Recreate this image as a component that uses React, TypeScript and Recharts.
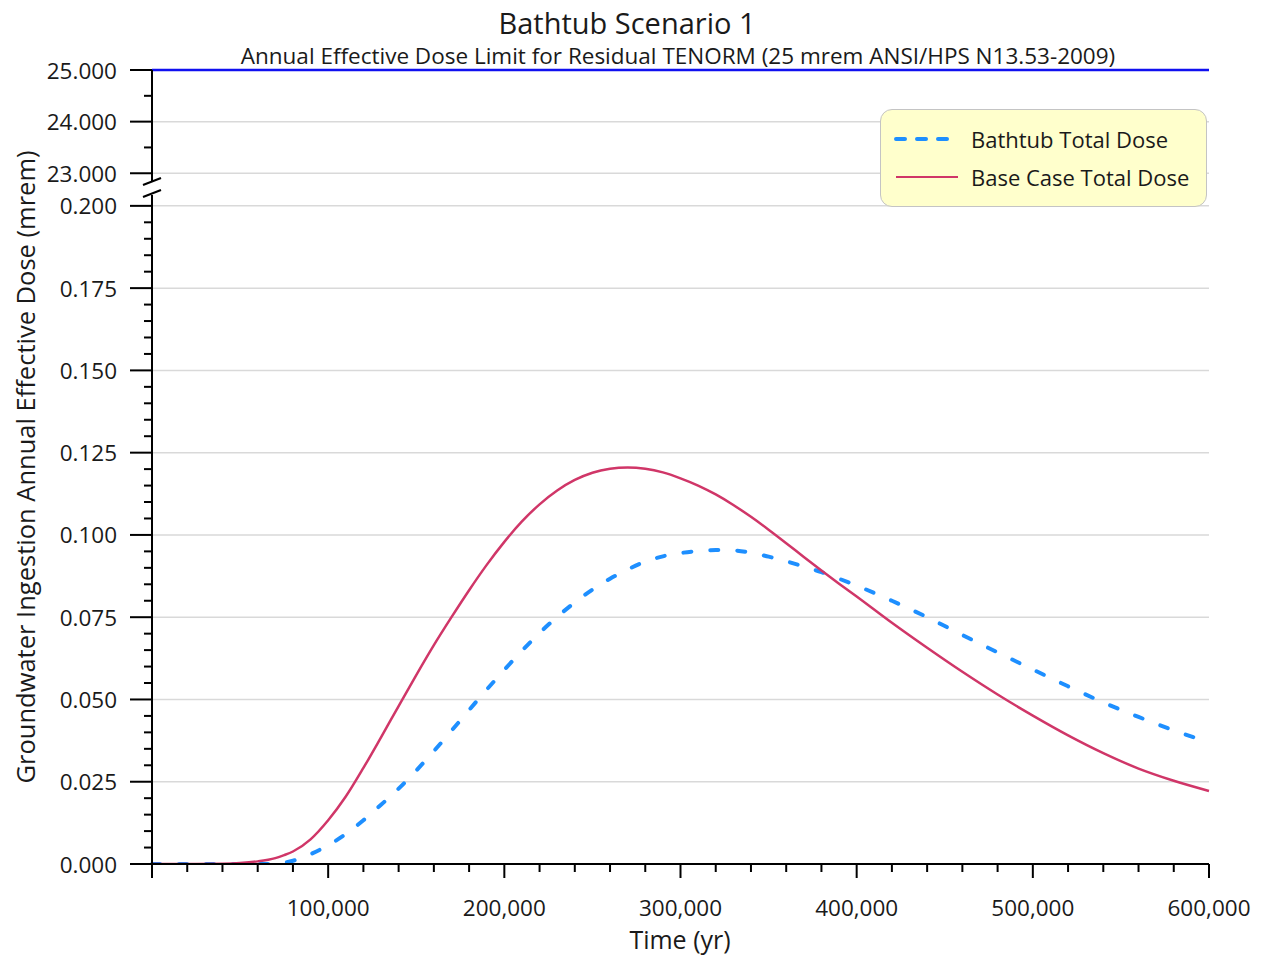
import React from 'react';
import { LineChart, Line, XAxis, YAxis, ReferenceLine, Legend } from 'recharts';

// time in years
const timeYr = [
  0, 20000, 40000, 50000, 60000, 70000, 75000, 80000, 90000, 100000,
  110000, 120000, 130000, 140000, 150000, 160000, 170000, 180000, 190000, 200000,
  210000, 220000, 230000, 240000, 250000, 260000, 270000, 280000, 290000, 300000,
  310000, 320000, 330000, 340000, 350000, 360000, 370000, 380000, 390000, 400000,
  420000, 440000, 460000, 480000, 500000, 520000, 540000, 560000, 580000, 600000,
];

// Bathtub Total Dose (mrem)
const bathtubDose = [
  0, 0, 0, 0, 0, 0.0001, 0.0004, 0.001, 0.003, 0.0057,
  0.0091, 0.0133, 0.018, 0.0229, 0.0284, 0.0343, 0.0405, 0.0468, 0.053, 0.059,
  0.0648, 0.0702, 0.0751, 0.0795, 0.0834, 0.0867, 0.0895, 0.0919, 0.0935, 0.0945,
  0.0951, 0.0954, 0.0953, 0.0946, 0.0934, 0.092, 0.0904, 0.0887, 0.0867, 0.0846,
  0.08, 0.075, 0.0696, 0.0643, 0.0591, 0.054, 0.0491, 0.0447, 0.0406, 0.037,
];

// Base Case Total Dose (mrem)
const baseCaseDose = [
  0, 0, 0.0001, 0.0003, 0.0008, 0.0018, 0.0027, 0.0038, 0.0075, 0.0133,
  0.0205, 0.0292, 0.0385, 0.048, 0.0574, 0.0665, 0.075, 0.0832, 0.0909, 0.0979,
  0.1041, 0.1093, 0.1135, 0.1167, 0.1189, 0.1201, 0.1205, 0.1201, 0.119, 0.1172,
  0.115, 0.1123, 0.1091, 0.1055, 0.1016, 0.0975, 0.0933, 0.0892, 0.0852, 0.0813,
  0.0733, 0.0657, 0.0584, 0.0515, 0.0451, 0.0391, 0.0337, 0.029, 0.0253, 0.0222,
];

const xMajorTicks = [0, 100000, 200000, 300000, 400000, 500000, 600000];
const upperMajorTicks = [23, 24, 25];
const lowerMajorTicks = [0, 0.025, 0.05, 0.075, 0.1, 0.125, 0.15, 0.175, 0.2];
const doseLimit = 25;

// minor ticks: 5 per major step on x and lower y, 2 on upper y
const withMinor = (majors: number[], parts: number) => {
  const out: number[] = [];
  for (let i = 0; i < majors.length - 1; i++) {
    const step = (majors[i + 1] - majors[i]) / parts;
    for (let k = 0; k < parts; k++) out.push(+(majors[i] + k * step).toFixed(6));
  }
  out.push(majors[majors.length - 1]);
  return out;
};

const xTicks = withMinor(xMajorTicks, 5);
const upperTicks = withMinor(upperMajorTicks, 2);
const lowerTicks = withMinor(lowerMajorTicks, 5);

const chartData = timeYr.map((t, i) => ({
  t,
  bathtub: bathtubDose[i],
  baseCase: baseCaseDose[i],
}));

const FONT = "'Open Sans', 'Noto Sans', sans-serif";
const INK = '#1a1a1a';
const GRID = '#d9d9d9';
const BLUE = '#1e8fff';
const RED = '#d03668';

const isIn = (v: number, list: number[]) => list.some((m) => Math.abs(m - v) < 1e-6);

const XTick = (props: any) => {
  const { x, y, payload } = props;
  const v = payload.value;
  const major = isIn(v, xMajorTicks);
  return (
    <g>
      <line x1={x} x2={x} y1={y} y2={y + (major ? 14 : 8)} stroke="#000" strokeWidth={2} />
      {major && v > 0 && (
        <text x={x} y={y + 43} textAnchor="middle" dominantBaseline="central" fontSize={22.5} fill={INK}>
          {v.toLocaleString('en-US')}
        </text>
      )}
    </g>
  );
};

const makeYTick = (majors: number[]) => (props: any) => {
  const { x, y, payload } = props;
  const v = payload.value;
  const major = isIn(v, majors);
  return (
    <g>
      <line x1={x - (major ? 22 : 8)} x2={x} y1={y} y2={y} stroke="#000" strokeWidth={2} />
      {major && (
        <text x={x - 35} y={y} textAnchor="end" dominantBaseline="central" fontSize={22.5} fill={INK}>
          {v.toFixed(3)}
        </text>
      )}
    </g>
  );
};

const UpperTick = makeYTick(upperMajorTicks);
const LowerTick = makeYTick(lowerMajorTicks);

const LegendBox = () => (
  <div
    style={{
      width: 327,
      height: 98,
      background: '#ffffcc',
      border: '1px solid #c4c4c4',
      borderRadius: 12,
      boxSizing: 'border-box',
      fontFamily: FONT,
      fontSize: 22,
      color: INK,
    }}
  >
    {[
      { name: 'Bathtub Total Dose', color: BLUE, dash: '9 12', w: 4, top: 30 },
      { name: 'Base Case Total Dose', color: RED, dash: undefined, w: 2, top: 68 },
    ].map((e) => (
      <div key={e.name} style={{ position: 'absolute', left: 14, top: e.top - 15, height: 30, display: 'flex', alignItems: 'center', whiteSpace: 'nowrap' }}>
        <svg width={66} height={10} style={{ marginRight: 11 }}>
          <line x1={2} x2={64} y1={5} y2={5} stroke={e.color} strokeWidth={e.w} strokeDasharray={e.dash} strokeLinecap={e.dash ? 'round' : 'butt'} />
        </svg>
        <span>{e.name}</span>
      </div>
    ))}
  </div>
);

export default function App() {
  return (
    <div style={{ position: 'absolute', left: 0, top: 0, width: 1263, height: 957, background: '#fff', fontFamily: FONT }}>
      {/* upper segment of the broken axis */}
      <div style={{ position: 'absolute', left: 0, top: 0 }}>
        <LineChart width={1263} height={200} data={chartData} margin={{ top: 70, right: 54, bottom: 19, left: 0 }}>
          <XAxis type="number" dataKey="t" domain={[0, 600000]} hide />
          <YAxis
            type="number"
            domain={[22.85, 25]}
            allowDataOverflow
            ticks={upperTicks}
            interval={0}
            width={152}
            tickSize={0}
            tickMargin={0}
            tickLine={false}
            tick={<UpperTick />}
            axisLine={{ stroke: '#000', strokeWidth: 2 }}
          />
          <ReferenceLine y={24} stroke={GRID} strokeWidth={1.5} />
          <ReferenceLine y={23} stroke={GRID} strokeWidth={1.5} />
          <ReferenceLine y={doseLimit} stroke="#1010f0" strokeWidth={2.5} />
        </LineChart>
      </div>

      {/* lower segment with the dose curves */}
      <div style={{ position: 'absolute', left: 0, top: 0 }}>
        <LineChart width={1263} height={957} data={chartData} margin={{ top: 195, right: 54, bottom: 0, left: 0 }}>
          <XAxis
            type="number"
            dataKey="t"
            domain={[0, 600000]}
            ticks={xTicks}
            interval={0}
            height={93}
            tickSize={0}
            tickMargin={0}
            tickLine={false}
            tick={<XTick />}
            axisLine={{ stroke: '#000', strokeWidth: 2 }}
          />
          <YAxis
            type="number"
            domain={[0, 0.2033]}
            allowDataOverflow
            ticks={lowerTicks}
            interval={0}
            width={152}
            tickSize={0}
            tickMargin={0}
            tickLine={false}
            tick={<LowerTick />}
            axisLine={{ stroke: '#000', strokeWidth: 2 }}
          />
          {lowerMajorTicks.filter((v) => v > 0).map((v) => (
            <ReferenceLine key={v} y={v} stroke={GRID} strokeWidth={1.5} />
          ))}
          <Line
            type="monotone"
            dataKey="bathtub"
            name="Bathtub Total Dose"
            stroke={BLUE}
            strokeWidth={4}
            strokeDasharray="8 19"
            strokeLinecap="round"
            dot={false}
            isAnimationActive={false}
          />
          <Line
            type="monotone"
            dataKey="baseCase"
            name="Base Case Total Dose"
            stroke={RED}
            strokeWidth={2.5}
            dot={false}
            isAnimationActive={false}
          />
          <Legend
            layout="horizontal"
            verticalAlign="middle"
            align="center"
            content={<LegendBox />}
            wrapperStyle={{ left: 880, top: 109, width: 327, height: 98 }}
          />
        </LineChart>
      </div>

      {/* titles, axis titles and break marks */}
      <svg width={1263} height={957} style={{ position: 'absolute', left: 0, top: 0, pointerEvents: 'none' }}>
        <text x={627} y={22} textAnchor="middle" dominantBaseline="central" fontSize={29} fill={INK}>
          Bathtub Scenario 1
        </text>
        <text x={678} y={55} textAnchor="middle" dominantBaseline="central" fontSize={22.5} fill={INK}>
          Annual Effective Dose Limit for Residual TENORM (25 mrem ANSI/HPS N13.53-2009)
        </text>
        <text
          x={25}
          y={467}
          transform="rotate(-90 25 467)"
          textAnchor="middle"
          dominantBaseline="central"
          fontSize={25.5}
          fill={INK}
        >
          Groundwater Ingestion Annual Effective Dose (mrem)
        </text>
        <text x={680} y={939} textAnchor="middle" dominantBaseline="central" fontSize={25} fill={INK}>
          Time (yr)
        </text>
        <line x1={143} y1={185} x2={161} y2={178} stroke="#000" strokeWidth={2} />
        <line x1={143} y1={197} x2={161} y2={190} stroke="#000" strokeWidth={2} />
      </svg>
    </div>
  );
}
